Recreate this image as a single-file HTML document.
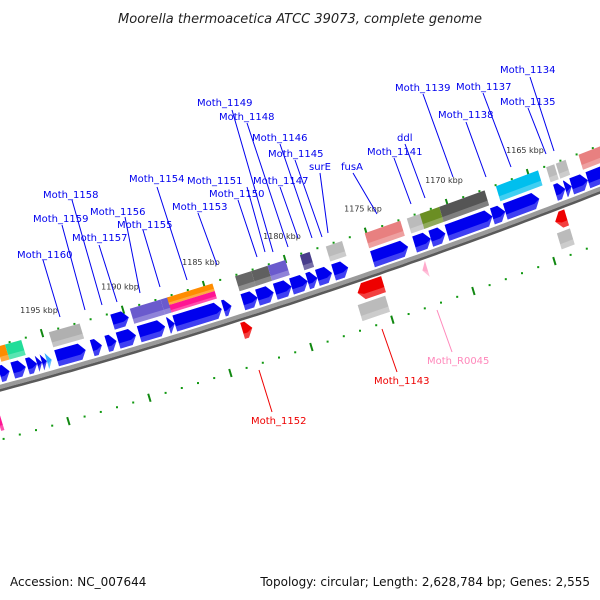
<!DOCTYPE html>
<html><head><meta charset="utf-8"><style>
html,body{margin:0;padding:0;background:#fff}
svg{display:block}
text{font-family:"DejaVu Sans","Liberation Sans",sans-serif}
.lab{font-size:10px;fill:#0000ee}
.ll{stroke:#0000ee;stroke-width:1}
</style></head><body>
<svg id="map" width="600" height="600" viewBox="0 0 600 600" xmlns="http://www.w3.org/2000/svg">
<rect width="600" height="600" fill="#fff"/>
<text x="300" y="23" text-anchor="middle" font-size="13" font-style="italic" fill="#222">Moorella thermoacetica ATCC 39073, complete genome</text>
<g id="ticks"></g>
<g id="backbone"></g>
<g id="feats"></g>
<g>
<line class="ll" x1="530" y1="77" x2="554" y2="151"/><text class="lab" x="500" y="73">Moth_1134</text>
<line class="ll" x1="483" y1="93" x2="511" y2="167"/><text class="lab" x="456" y="90">Moth_1137</text>
<line class="ll" x1="528" y1="108" x2="546" y2="154"/><text class="lab" x="500" y="105">Moth_1135</text>
<line class="ll" x1="423" y1="94" x2="453" y2="177"/><text class="lab" x="395" y="91">Moth_1139</text>
<line class="ll" x1="466" y1="122" x2="486" y2="177"/><text class="lab" x="438" y="118">Moth_1138</text>
<line class="ll" x1="405" y1="144" x2="425" y2="198"/><text class="lab" x="397" y="141">ddl</text>
<line class="ll" x1="394" y1="158" x2="411" y2="204"/><text class="lab" x="367" y="155">Moth_1141</text>
<line class="ll" x1="353" y1="173" x2="377" y2="214"/><text class="lab" x="341" y="170">fusA</text>
<line class="ll" x1="320" y1="173" x2="328" y2="233"/><text class="lab" x="309" y="170">surE</text>
<line class="ll" x1="295" y1="160" x2="322" y2="237"/><text class="lab" x="268" y="157">Moth_1145</text>
<line class="ll" x1="280" y1="144" x2="312" y2="238"/><text class="lab" x="252" y="141">Moth_1146</text>
<line class="ll" x1="280" y1="187" x2="298" y2="238"/><text class="lab" x="253" y="184">Moth_1147</text>
<line class="ll" x1="247" y1="123" x2="288" y2="247"/><text class="lab" x="219" y="120">Moth_1148</text>
<line class="ll" x1="232" y1="110" x2="273" y2="252"/><text class="lab" x="197" y="106">Moth_1149</text>
<line class="ll" x1="238" y1="200" x2="257" y2="257"/><text class="lab" x="209" y="197">Moth_1150</text>
<line class="ll" x1="247" y1="187" x2="265" y2="252"/><text class="lab" x="187" y="184">Moth_1151</text>
<line class="ll" x1="198" y1="213" x2="217" y2="265"/><text class="lab" x="172" y="210">Moth_1153</text>
<line class="ll" x1="157" y1="187" x2="187" y2="280"/><text class="lab" x="129" y="182">Moth_1154</text>
<line class="ll" x1="143" y1="230" x2="160" y2="287"/><text class="lab" x="117" y="228">Moth_1155</text>
<line class="ll" x1="125" y1="217" x2="140" y2="293"/><text class="lab" x="90" y="215">Moth_1156</text>
<line class="ll" x1="99" y1="245" x2="117" y2="302"/><text class="lab" x="72" y="241">Moth_1157</text>
<line class="ll" x1="72" y1="200" x2="102" y2="305"/><text class="lab" x="43" y="198">Moth_1158</text>
<line class="ll" x1="62" y1="225" x2="85" y2="310"/><text class="lab" x="33" y="222">Moth_1159</text>
<line class="ll" x1="43" y1="260" x2="60" y2="317"/><text class="lab" x="17" y="258">Moth_1160</text>
<line stroke="#ee0000" x1="259" y1="370" x2="272" y2="412"/><text x="251" y="424" font-size="10" fill="#ee0000">Moth_1152</text>
<line stroke="#ee0000" x1="382" y1="329" x2="397" y2="372"/><text x="374" y="384" font-size="10" fill="#ee0000">Moth_1143</text>
<line stroke="#ff88bb" x1="437" y1="310" x2="452" y2="352"/><text x="427" y="364" font-size="10" fill="#ff88bb">Moth_R0045</text>
</g>
<text x="10" y="586" font-size="12" fill="#111">Accession: NC_007644</text>
<text x="590" y="586" font-size="12" fill="#111" text-anchor="end">Topology: circular; Length: 2,628,784 bp; Genes: 2,555</text>
</svg>
<script>
// feature data (kbp): start, end, track, colour, shape
const featStart=[1198.1,1197.3,1196.4,1195.8,1195.5,1195.2,1194.6,1192.4,1191.5,1190.8,1189.5,1187.7,1187.3,1184.3,1183.1,1182.2,1181.1,1180.1,1179.1,1178.5,1177.5,1175.1,1172.5,1171.5,1170.5,1167.7,1166.9,1163.8,1163.2,1162.8,1161.8,
 1197.8,1197.3,1194.6,1190.8,1189.6,1187.7,1187.3,1187.3,1183.1,1182.1,1181.1,1179.1,1177.5,1175.1,1172.5,1171.7,1170.5,1167.0,1163.9,1163.3,1161.9,
 1183.6,1176.5,1172.5,1164.3,1176.7,1164.4,1199.0];
const featEnd=[1197.5,1196.5,1195.8,1195.5,1195.2,1194.9,1192.8,1191.8,1190.9,1189.7,1187.9,1187.3,1184.4,1183.8,1182.2,1181.2,1180.1,1179.1,1178.5,1177.6,1176.6,1172.9,1171.5,1170.6,1167.7,1166.9,1164.8,1163.2,1162.8,1161.8,1160.3,
 1197.3,1196.3,1192.7,1189.8,1187.7,1187.2,1184.5,1184.5,1182.1,1181.1,1180.0,1178.5,1176.5,1172.9,1171.4,1170.5,1167.7,1164.4,1163.4,1162.7,1160.3,
 1183.0,1174.9,1172.2,1163.6,1175.0,1163.6,1198.8];
const featTrack=[1,1,1,1,1,1,1,1,1,1,1,1,1,1,1,1,1,1,1,1,1,1,1,1,1,1,1,1,1,1,1,
 2,2,2,2,2,2,5,6,2,2,2,2,2,2,2,2,2,2,2,2,2,
 3,3,3,3,4,4,4];
const featColor=["#0000ee","#0000ee","#0000ee","#0000ee","#0000ee","#33aaff","#0000ee","#0000ee","#0000ee","#0000ee","#0000ee","#0000ee","#0000ee","#0000ee","#0000ee","#0000ee","#0000ee","#0000ee","#0000ee","#0000ee","#0000ee","#0000ee","#0000ee","#0000ee","#0000ee","#0000ee","#0000ee","#0000ee","#0000ee","#0000ee","#0000ee",
 "#ff8c00","#22dd99","#b0b0b0","#0000ee","#6a5acd","#6a5acd","#ff8c00","#ff1493","#666666","#606060","#6a5acd","#483d8b","#bbbbbb","#e88080","#bbbbbb","#6b8e23","#555555","#00bfee","#bbbbbb","#bbbbbb","#e88080",
 "#ee0000","#ee0000","#ffaacc","#ee0000","#bbbbbb","#bbbbbb","#ff1493"];
const featArrow=[1,1,1,1,1,1,1,1,1,1,1,1,1,1,1,1,1,1,1,1,1,1,1,1,1,1,1,1,1,1,1,
 0,0,0,1,0,0,0,0,0,0,0,0,0,0,0,0,0,0,0,0,0,
 1,-1,-1,-1,0,0,0];
const tickMin=1159, tickMax=1200;
const tickLabels=[1195,1190,1185,1180,1175,1170,1165];

const NS="http://www.w3.org/2000/svg";
const trackOff={1:[-21,-5],2:[-39,-24],3:[5,21],4:[24,40],5:[-39,-31.5],6:[-31.5,-24]};
function bx(k){return 54+(1195-k)*16.2;}
function baseY(x){return 388-0.27*x-0.0001*x*x;}
function pt(k,off){const x=bx(k);return [x+0.3*off, baseY(x)+off];}
function poly(pts,fill,parent,name){const p=document.createElementNS(NS,"polygon");
 p.setAttribute("points",pts.map(q=>q[0].toFixed(1)+","+q[1].toFixed(1)).join(" "));
 p.setAttribute("fill",fill);
 
 
 parent.appendChild(p);return p;}

// backbone
const bbG=document.getElementById("backbone");
const bbTop=[],bbBot=[],bbBot2=[];
for(let k=1201;k>=1157;k-=0.5){bbTop.push(pt(k,-3));bbBot.push(pt(k,1));bbBot2.push(pt(k,3.5));}
poly(bbTop.concat(bbBot.slice().reverse()),"#9a9a9a",bbG,"backbone-band");
poly(bbBot.concat(bbBot2.slice().reverse()),"#5a5a5a",bbG,"backbone-shadow");

// ticks
const tg=document.getElementById("ticks");
for(let k=tickMin;k<=tickMax;k++){
 [-40,48].forEach(off=>{
  if(k%5===0){
   const a=pt(k,off-4),b=pt(k,off+4);const l=document.createElementNS(NS,"line");
   l.setAttribute("x1",a[0]);l.setAttribute("y1",a[1]);l.setAttribute("x2",b[0]);l.setAttribute("y2",b[1]);
   l.setAttribute("stroke","#118811");l.setAttribute("stroke-width","2");
   
   
   tg.appendChild(l);
  } else {
   const c=pt(k,off);const r=document.createElementNS(NS,"rect");
   r.setAttribute("x",c[0]-1);r.setAttribute("y",c[1]-1);r.setAttribute("width",2);r.setAttribute("height",2);
   r.setAttribute("fill","#119911");
   
   
   tg.appendChild(r);
  }
 });
}
tickLabels.forEach(k=>{const c=pt(k,-60);const t=document.createElementNS(NS,"text");
 t.setAttribute("x",c[0]+3);t.setAttribute("y",c[1]);t.setAttribute("text-anchor","middle");
 t.setAttribute("font-size","8");t.setAttribute("fill","#333");t.textContent=k+" kbp";
 
 
 tg.appendChild(t);});

// features
const fg=document.getElementById("feats");
function featShape(s,e,a,b,om,h,dir){
 if(dir===1) return [pt(s,a),pt(e+h,a),pt(e,om),pt(e+h,b),pt(s,b)];
 if(dir===-1) return [pt(s-h,a),pt(e,a),pt(e,b),pt(s-h,b),pt(s,om)];
 return [pt(s,a),pt(e,a),pt(e,b),pt(s,b)];
}
for(let i=0;i<featStart.length;i++){
 const s=featStart[i],e=featEnd[i],o1=trackOff[featTrack[i]][0],o2=trackOff[featTrack[i]][1],dir=featArrow[i];
 const om=(o1+o2)/2,h=Math.min(0.35,Math.abs(s-e));
 const g=document.createElementNS(NS,"g");
 
 
 fg.appendChild(g);
 poly(featShape(s,e,o1,o2,om,h,dir),featColor[i],g,"feature-body");
 const sh=poly(featShape(s,e,o1+(o2-o1)*0.68,o2,om,h,dir),"#ffffff",g,"feature-shade");
 sh.setAttribute("fill-opacity","0.25");
}
</script>
</body></html>
